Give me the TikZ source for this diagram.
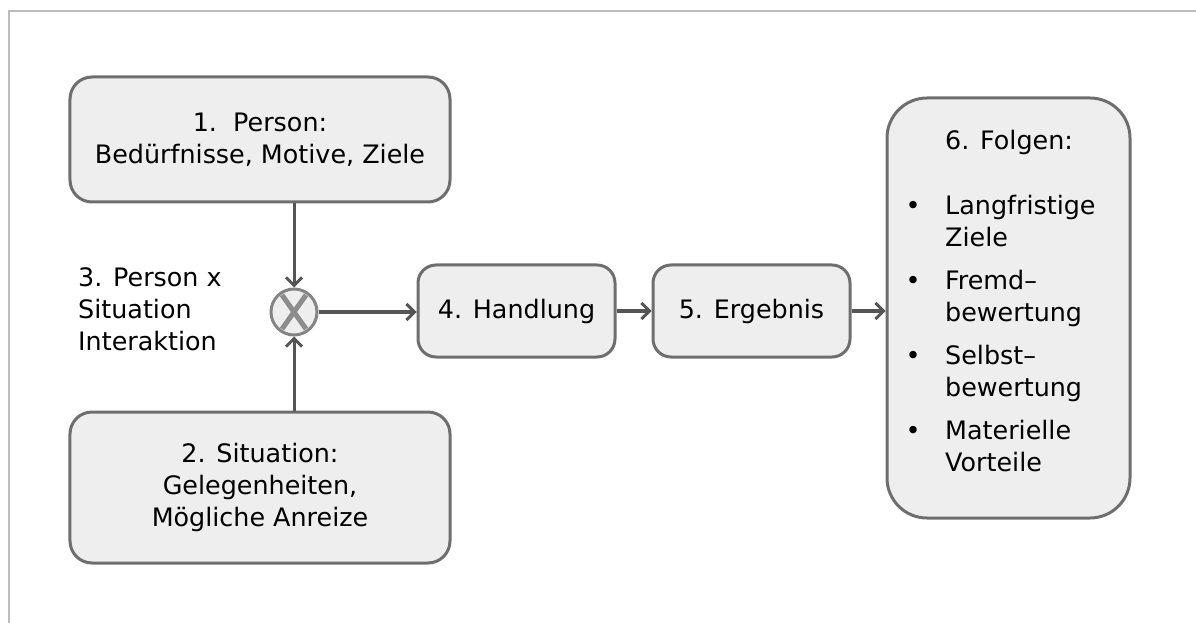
\documentclass[tikz,border=0pt]{standalone}
\usepackage{fontspec}
\setmainfont{DejaVu Sans}
\usetikzlibrary{arrows.meta}
\definecolor{boxfill}{HTML}{EEEEEE}
\definecolor{boxline}{HTML}{6E6E6E}
\definecolor{arrowc}{HTML}{555555}
\definecolor{framec}{HTML}{BBBBBB}
\definecolor{xc}{HTML}{8C8C8C}
\begin{document}
\begin{tikzpicture}[x=1bp,y=-1bp,
  font=\fontsize{25.5}{32}\selectfont,
  box/.style={draw=boxline, fill=boxfill, line width=3bp, rounded corners=22bp, align=center, inner sep=0pt},
  smallbox/.style={box, rounded corners=18bp, minimum width=197bp, minimum height=92bp},
  arr/.style={draw=arrowc, line width=3bp, -{Straight Barb[length=8bp,width=16bp]}},
  label/.style={align=left, inner sep=0pt}]
\useasboundingbox (0,0) rectangle (1196,623);
% frame
\coordinate (fa) at (9,623);
\coordinate (fb) at (9,11);
\coordinate (fc) at (1196,11);
\draw[framec, line width=2.2bp] (fa) -- (fb) -- (fc);
% boxes
\node[box, minimum width=380bp, minimum height=125bp] (b1) at (260,139.5) {1.\ \ Person:\\Bedürfnisse, Motive, Ziele};
\node[box, minimum width=380bp, minimum height=151bp] (b2) at (260,487.5) {2. Situation:\\Gelegenheiten,\\Mögliche Anreize};
\node[circle, draw=boxline!85, fill=boxfill, line width=3bp, minimum size=46bp, inner sep=0pt] (c) at (294,312) {};
\draw[xc, line width=5bp] ([shift={(-12,-17)}]c.center) -- ([shift={(12,17)}]c.center);
\draw[xc, line width=5bp] ([shift={(12,-17)}]c.center) -- ([shift={(-12,17)}]c.center);
\node[label, anchor=west] (l3) at (78,309) {3. Person x\\Situation\\Interaktion};
\node[smallbox] (b4) at (516.5,311) {4. Handlung};
\node[smallbox] (b5) at (751.5,311) {5. Ergebnis};
\node[box, rounded corners=40bp, minimum width=243bp, minimum height=420bp] (b6) at (1008.5,308) {};
\node[label, anchor=base west] (f6) at (905.5,150) {\begin{tabular}[t]{@{}l@{}l@{}}
 & 6. Folgen:\\[33bp]
\makebox[39.5bp][l]{•} & Langfristige\\
 & Ziele\\[11bp]
\makebox[39.5bp][l]{•} & Fremd–\\
 & bewertung\\[11bp]
\makebox[39.5bp][l]{•} & Selbst–\\
 & bewertung\\[11bp]
\makebox[39.5bp][l]{•} & Materielle\\
 & Vorteile
\end{tabular}};
% connectors
\draw[arr] (c.north |- b1.south) -- (c.north);
\draw[arr] (c.south |- b2.north) -- (c.south);
\draw[arr] (c.east) -- (c.east -| b4.west);
\draw[arr] (b4.east) -- (b4.east -| b5.west);
\draw[arr] (b5.east) -- (b5.east -| b6.west);
\end{tikzpicture}
\end{document}
